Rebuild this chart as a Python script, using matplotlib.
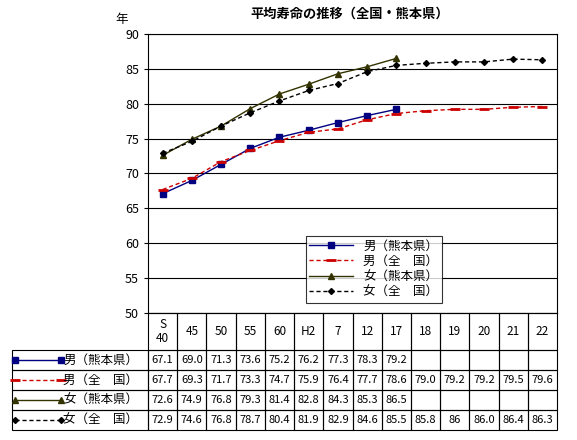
import matplotlib
matplotlib.use("Agg")
import matplotlib.pyplot as plt
import numpy as np

plt.rcParams['font.family'] = ['Noto Sans CJK JP', 'DejaVu Sans']

cats = ["S\n40", "45", "50", "55", "60", "H2", "7", "12", "17", "18", "19", "20", "21", "22"]
male_kuma = [67.1, 69.0, 71.3, 73.6, 75.2, 76.2, 77.3, 78.3, 79.2]
male_nat = [67.7, 69.3, 71.7, 73.3, 74.7, 75.9, 76.4, 77.7, 78.6, 79.0, 79.2, 79.2, 79.5, 79.6]
fem_kuma = [72.6, 74.9, 76.8, 79.3, 81.4, 82.8, 84.3, 85.3, 86.5]
fem_nat = [72.9, 74.6, 76.8, 78.7, 80.4, 81.9, 82.9, 84.6, 85.5, 85.8, 86, 86.0, 86.4, 86.3]
labels = ["男（熊本県）", "男（全　国）", "女（熊本県）", "女（全　国）"]
texts = [["67.1", "69.0", "71.3", "73.6", "75.2", "76.2", "77.3", "78.3", "79.2"],
         ["67.7", "69.3", "71.7", "73.3", "74.7", "75.9", "76.4", "77.7", "78.6", "79.0", "79.2", "79.2", "79.5", "79.6"],
         ["72.6", "74.9", "76.8", "79.3", "81.4", "82.8", "84.3", "85.3", "86.5"],
         ["72.9", "74.6", "76.8", "78.7", "80.4", "81.9", "82.9", "84.6", "85.5", "85.8", "86", "86.0", "86.4", "86.3"]]

styles = [dict(color="#000080", ls="-", marker="s", ms=4, mfc="#000080"),
          dict(color="#cc0000", ls=(0, (3, 2)), marker="_", ms=7, mew=2),
          dict(color="#333300", ls="-", marker="^", ms=5, mfc="#333300"),
          dict(color="#000000", ls=(0, (3, 2)), marker="D", ms=3)]
series = [male_kuma, male_nat, fem_kuma, fem_nat]

fig = plt.figure(figsize=(5.77, 4.40), dpi=100)
ax = fig.add_axes([148/577, 1-313/440, 409/577, 279/440])
for s, st, lab in zip(series, styles, labels):
    ax.plot(np.arange(len(s)), s, lw=1, label=lab, **st)
ax.set_xlim(-0.5, len(cats)-0.5)
ax.set_ylim(50, 90)
ax.set_yticks(range(50, 91, 5))
ax.yaxis.grid(True, color="black", lw=0.8)
ax.set_xticks([])
ax.tick_params(axis='y', labelsize=9, length=3)
for sp in ax.spines.values():
    sp.set_linewidth(0.8)
leg = ax.legend(loc="upper left", bbox_to_anchor=(0.37, 0.30), fontsize=9, frameon=True,
                fancybox=False, edgecolor="black", borderpad=0.3, labelspacing=0.2, handlelength=3.5)
leg.get_frame().set_linewidth(0.8)
fig.text(350/577, 1-14/440, "平均寿命の推移（全国・熊本県）", ha="center", va="center", fontsize=9.5, fontweight="bold")
fig.text(122/577, 1-20/440, "年", ha="center", va="center", fontsize=9)

# table
n = len(cats)
cw = 1.0 / n
hdr_h = 37/279
row_h = 20/279
lab_w = (148-12)/409
for i, c in enumerate(cats):
    x0 = i*cw
    ax.add_patch(plt.Rectangle((x0, -hdr_h), cw, hdr_h, transform=ax.transAxes, fill=False, lw=0.8, clip_on=False))
    ax.text(x0+cw/2, -hdr_h/2, c, transform=ax.transAxes, ha="center", va="center", fontsize=8.5, linespacing=1.1)
for r in range(4):
    y0 = -hdr_h - (r+1)*row_h
    ax.add_patch(plt.Rectangle((-lab_w, y0), lab_w, row_h, transform=ax.transAxes, fill=False, lw=0.8, clip_on=False))
    ax.plot([-lab_w+0.008, -lab_w+0.12], [y0+row_h/2]*2, transform=ax.transAxes, clip_on=False, lw=1, **styles[r])
    ax.text(-lab_w+0.125, y0+row_h/2, labels[r], transform=ax.transAxes, ha="left", va="center", fontsize=9)
    for i in range(n):
        x0 = i*cw
        ax.add_patch(plt.Rectangle((x0, y0), cw, row_h, transform=ax.transAxes, fill=False, lw=0.8, clip_on=False))
        if i < len(texts[r]):
            ax.text(x0+cw/2, y0+row_h/2, texts[r][i], transform=ax.transAxes, ha="center", va="center", fontsize=8)

fig.savefig("out.png", dpi=100)
